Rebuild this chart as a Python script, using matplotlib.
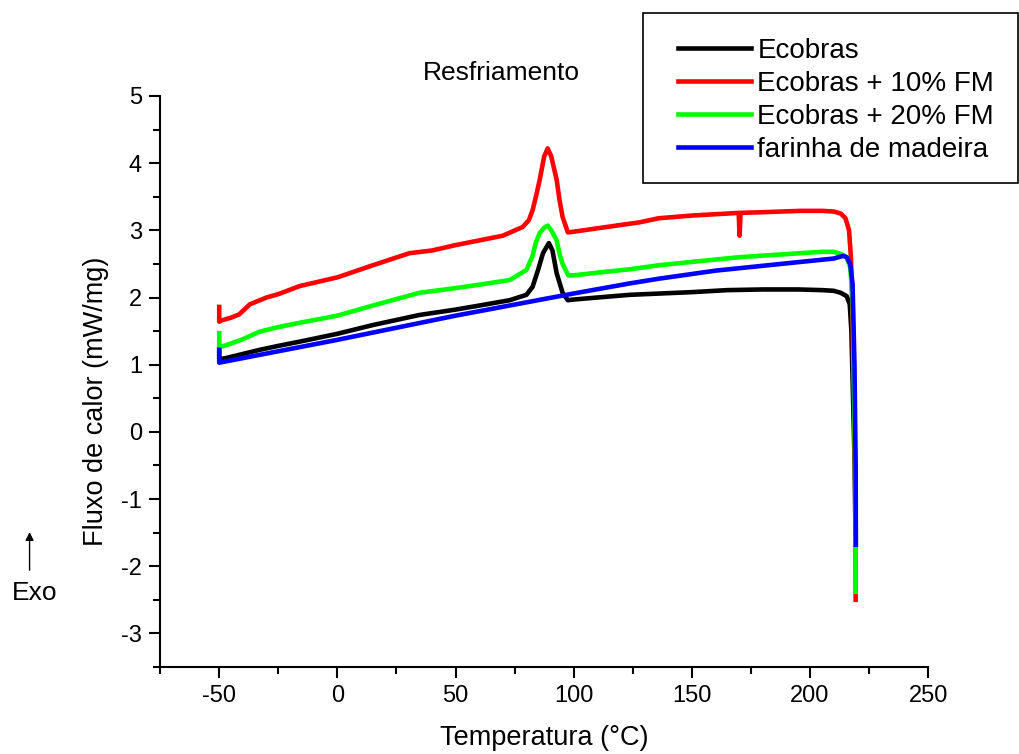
import matplotlib
matplotlib.use("Agg")
import matplotlib.pyplot as plt
from matplotlib.patches import Rectangle
from matplotlib.ticker import MultipleLocator

plt.rcParams['font.family'] = ['Liberation Sans', 'DejaVu Sans']
plt.rcParams['axes.unicode_minus'] = False

# Ecobras
t_eco = [-50, -50, -47, -40, -33, -25, -15, 0, 15, 34.7, 50, 60, 72.9, 80, 82.6, 85, 87,
         89.5, 91, 92.8, 95.3, 97.5, 100, 110, 123.7, 150, 165, 180, 195, 205, 210, 213, 215.5, 216.8,
         217.5, 218.2, 218.9, 219.2]
q_eco = [1.23, 1.08, 1.10, 1.16, 1.22, 1.28, 1.35, 1.46, 1.59, 1.74, 1.82, 1.88, 1.96, 2.04,
         2.16, 2.42, 2.66, 2.81, 2.70, 2.36, 2.07, 1.96, 1.97, 2.00, 2.04, 2.08, 2.11,
         2.12, 2.12, 2.11, 2.10, 2.07, 2.02, 1.90, 1.50, 0.50, -0.50, -1.50]

# Ecobras + 10% FM
t_10 = [-50, -50, -49, -45, -41.5, -37, -30, -25, -16, 0, 15, 30.5, 40, 50, 60, 70, 78.4, 81, 82.6,
        84, 85.6, 87.5, 89, 90.5, 92.8, 94, 95.3, 97.5, 100, 110, 128, 136, 150, 165, 169.8, 170.2,
        170.6, 180, 196, 205, 210, 213, 215, 216.5, 217.3, 217.8, 218.3, 218.8, 219.2, 219.3]
q_10 = [1.86, 1.64, 1.66, 1.70, 1.75, 1.90, 2.00, 2.05, 2.17, 2.30, 2.48, 2.66, 2.70, 2.78,
        2.85, 2.92, 3.05, 3.15, 3.30, 3.50, 3.75, 4.10, 4.22, 4.10, 3.75, 3.45, 3.20, 2.97, 2.98,
        3.03, 3.12, 3.18, 3.22, 3.25, 3.26, 2.92, 3.26, 3.27, 3.29, 3.29, 3.28, 3.25, 3.18, 3.00,
        2.60, 2.00, 1.00, 0.00, -1.00, -2.50]

# Ecobras + 20% FM
t_20 = [-50, -50, -47, -40, -33, -25, -15, 0, 15, 34.7, 50, 60, 72.9, 80, 82.6, 84, 85.6,
        87.5, 89, 90.5, 92.8, 94, 95.3, 97.7, 100, 110, 123.7, 136, 150, 170, 196, 205, 210, 213, 215.5,
        217, 218, 218.7, 219.2, 219.3]
q_20 = [1.47, 1.26, 1.29, 1.38, 1.49, 1.56, 1.63, 1.73, 1.88, 2.07, 2.14, 2.19, 2.26, 2.41,
        2.62, 2.82, 2.96, 3.04, 3.07, 3.00, 2.85, 2.65, 2.50, 2.33, 2.33, 2.37, 2.42, 2.48,
        2.53, 2.60, 2.66, 2.68, 2.68, 2.65, 2.60, 2.45, 2.00, 0.50, -1.00, -2.38]

# farinha de madeira
t_fm = [-50, -50, -25, 0, 50, 100, 123.7, 136, 160, 196, 210, 214, 215.5, 217, 218, 218.8,
        219.3, 219.4]
q_fm = [1.22, 1.03, 1.20, 1.37, 1.73, 2.06, 2.21, 2.28, 2.40, 2.53, 2.58, 2.62, 2.60,
        2.50, 2.20, 1.00, -0.50, -1.68]

fig = plt.figure(figsize=(10.2, 7.54), dpi=100)
ax = fig.add_axes([0.157, 0.1154, 0.753, 0.7573])

lw = 3.3
ax.plot(t_eco, q_eco, color='black', lw=lw, label='Ecobras')
ax.plot(t_10, q_10, color='#ff0000', lw=lw, label='Ecobras + 10% FM')
ax.plot(t_20, q_20, color='#00ff00', lw=lw, label='Ecobras + 20% FM')
ax.plot(t_fm, q_fm, color='#0000ff', lw=lw, label='farinha de madeira')

ax.set_xlim(-75, 250)
ax.set_ylim(-3.5, 5)
ax.xaxis.set_major_locator(MultipleLocator(50))
ax.xaxis.set_minor_locator(MultipleLocator(25))
ax.yaxis.set_major_locator(MultipleLocator(1))
ax.yaxis.set_minor_locator(MultipleLocator(0.5))
ax.spines['top'].set_visible(False)
ax.spines['right'].set_visible(False)
for s in ['left', 'bottom']:
    ax.spines[s].set_linewidth(1.5)
ax.tick_params(which='major', length=8, width=1.5, labelsize=17, direction='out', pad=5)
ax.tick_params(which='minor', length=5, width=1.5, direction='out')

fig.text(0.094, 0.468, 'Fluxo de calor (mW/mg)', rotation=90, ha='center', va='center', fontsize=19.5)
fig.text(0.534, 0.021, 'Temperatura (°C)', ha='center', va='center', fontsize=19.5)
fig.text(0.492, 0.903, 'Resfriamento', ha='center', va='center', fontsize=19)

# Exo arrow
fig.text(0.034, 0.213, 'Exo', ha='center', va='center', fontsize=19)
ax.annotate('', xy=(0.029, 0.298), xytext=(0.029, 0.24), xycoords='figure fraction',
            arrowprops=dict(arrowstyle='-|>', color='black', lw=1, mutation_scale=12))

# legend box
fig.patches.append(Rectangle((0.630, 0.757), 0.368, 0.226, transform=fig.transFigure,
                             fill=False, edgecolor='black', lw=1.2))
ax.legend(loc='upper left', bbox_to_anchor=(0.665, 0.950), bbox_transform=fig.transFigure,
          frameon=False, fontsize=20, handlelength=2.6, handletextpad=0.25, labelspacing=0.25,
          borderpad=0, borderaxespad=0)

fig.savefig('out.png', dpi=100)
